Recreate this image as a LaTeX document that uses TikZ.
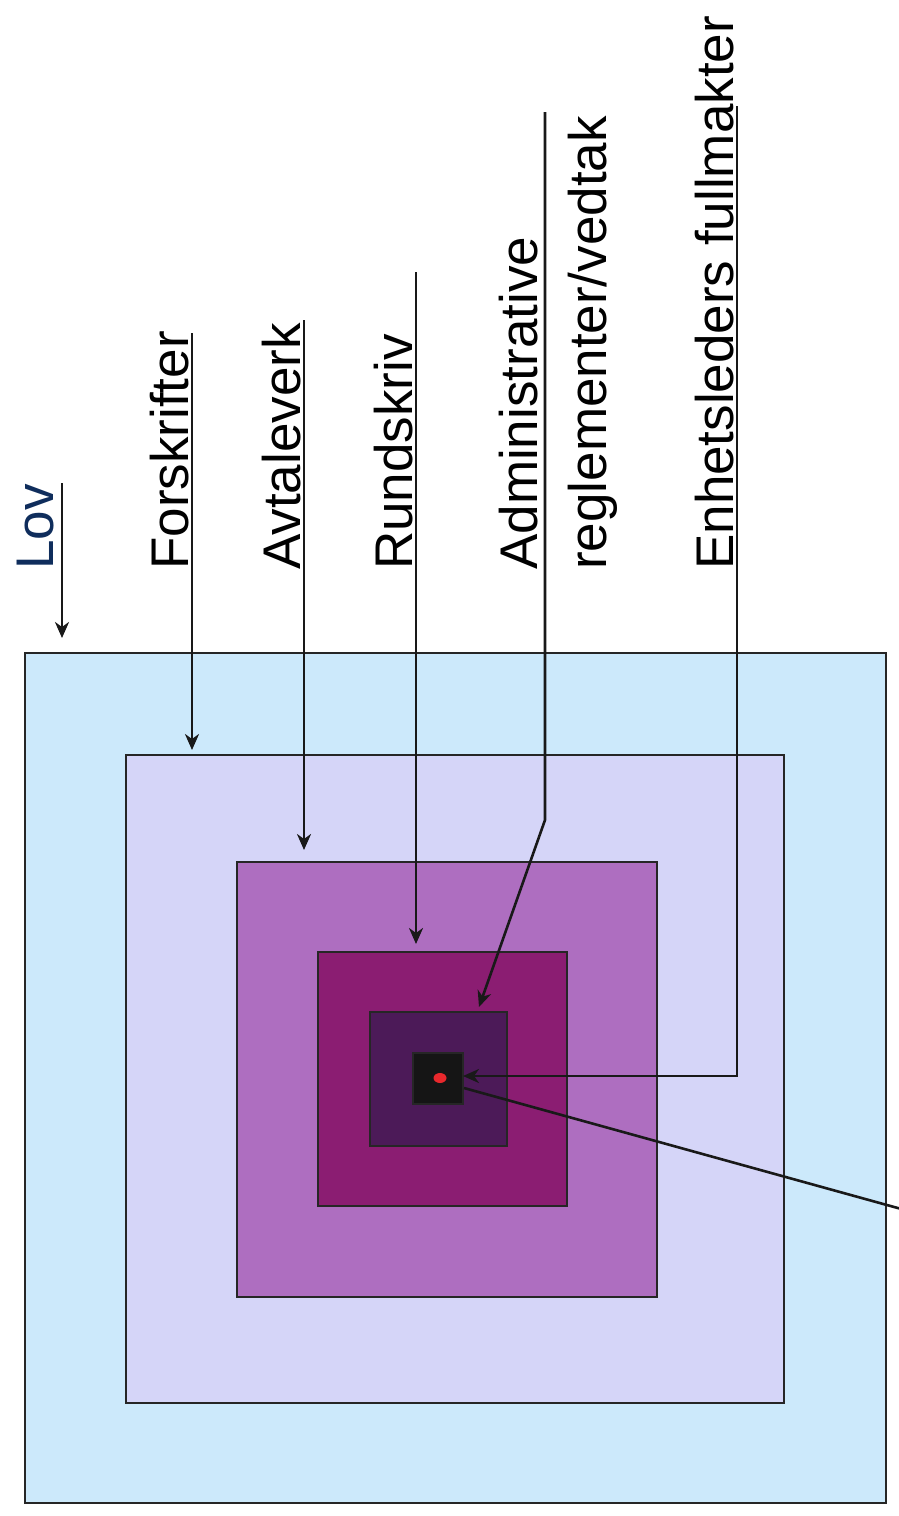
\documentclass[tikz,border=0pt]{standalone}
\usepackage{fontspec}
\setmainfont{Liberation Sans}
\usetikzlibrary{arrows.meta,shapes.geometric}
\definecolor{cBlue}{HTML}{CCE9FB}
\definecolor{cLav}{HTML}{D5D5F8}
\definecolor{cOrchid}{HTML}{AE6EC0}
\definecolor{cMag}{HTML}{8B1D72}
\definecolor{cDark}{HTML}{4C1A58}
\definecolor{cBlack}{HTML}{151515}
\definecolor{cRed}{HTML}{E8282C}
\definecolor{cNavy}{HTML}{0F2D5C}
\begin{document}
\begin{tikzpicture}[x=1pt,y=-1pt,
  sqbox/.style={draw=black!85,line width=2pt,anchor=north west,inner sep=0pt,outer sep=0pt},
  lbl/.style={rotate=90,anchor=base west,inner sep=0pt,font=\fontsize{53}{64}\selectfont},
  conn/.style={draw=black!90,line width=2.6pt},
  arr/.style={conn,-{Stealth[length=16pt,width=14pt,inset=5pt]}}]
\useasboundingbox[fill=white] (0,0) rectangle (898,1516);
% nested squares
\node[sqbox,fill=cBlue,minimum width=861pt,minimum height=850pt] (s1) at (25,653) {};
\node[sqbox,fill=cLav,minimum width=658pt,minimum height=648pt] (s2) at (126,755) {};
\node[sqbox,fill=cOrchid,minimum width=420pt,minimum height=435pt] (s3) at (237,862) {};
\node[sqbox,fill=cMag,minimum width=249pt,minimum height=254pt] (s4) at (318,952) {};
\node[sqbox,fill=cDark,minimum width=137pt,minimum height=134pt] (s5) at (370,1012) {};
\node[sqbox,fill=cBlack,minimum width=50pt,minimum height=51pt] (s6) at (413,1053) {};
\node[ellipse,fill=cRed,minimum width=13pt,minimum height=10pt,inner sep=0pt] (dot) at (440,1078) {};
% labels
\node[lbl,text=cNavy] (lov) at (53,570) {Lov};
\node[lbl] (fors) at (188,570) {Forskrifter};
\node[lbl] (avt) at (300,570) {Avtaleverk};
\node[lbl] (rund) at (412,570) {Rundskriv};
\node[lbl] (adm) at (537,570) {Administrative};
\node[lbl] (regl) at (606,570) {reglementer/vedtak};
\node[lbl] (enh) at (733,570) {Enhetsleders fullmakter};
% connector coordinates
\coordinate (lovA) at (62,483);
\coordinate (lovB) at (62,638);
\coordinate (forA) at (192,333);
\coordinate (forB) at (192,750);
\coordinate (avtA) at (304,320);
\coordinate (avtB) at (304,850);
\coordinate (runA) at (416,272);
\coordinate (runB) at (416,944);
\coordinate (admA) at (545,112);
\coordinate (admK) at (545,820);
\coordinate (admB) at (479,1007);
\coordinate (enhA) at (737,106);
\coordinate (enhK) at (737,1076);
\coordinate (enhB) at (463,1076);
\coordinate (diagA) at (905,1210);
\coordinate (diagB) at (464,1088);
% connectors
\draw[arr] (lovA) -- (lovB);
\draw[arr] (forA) -- (forB);
\draw[arr] (avtA) -- (avtB);
\draw[arr] (runA) -- (runB);
\draw[arr] (admA) -- (admK) -- (admB);
\draw[arr] (enhA) -- (enhK) -- (enhB);
\draw[conn] (diagA) -- (diagB);
\end{tikzpicture}
\end{document}
